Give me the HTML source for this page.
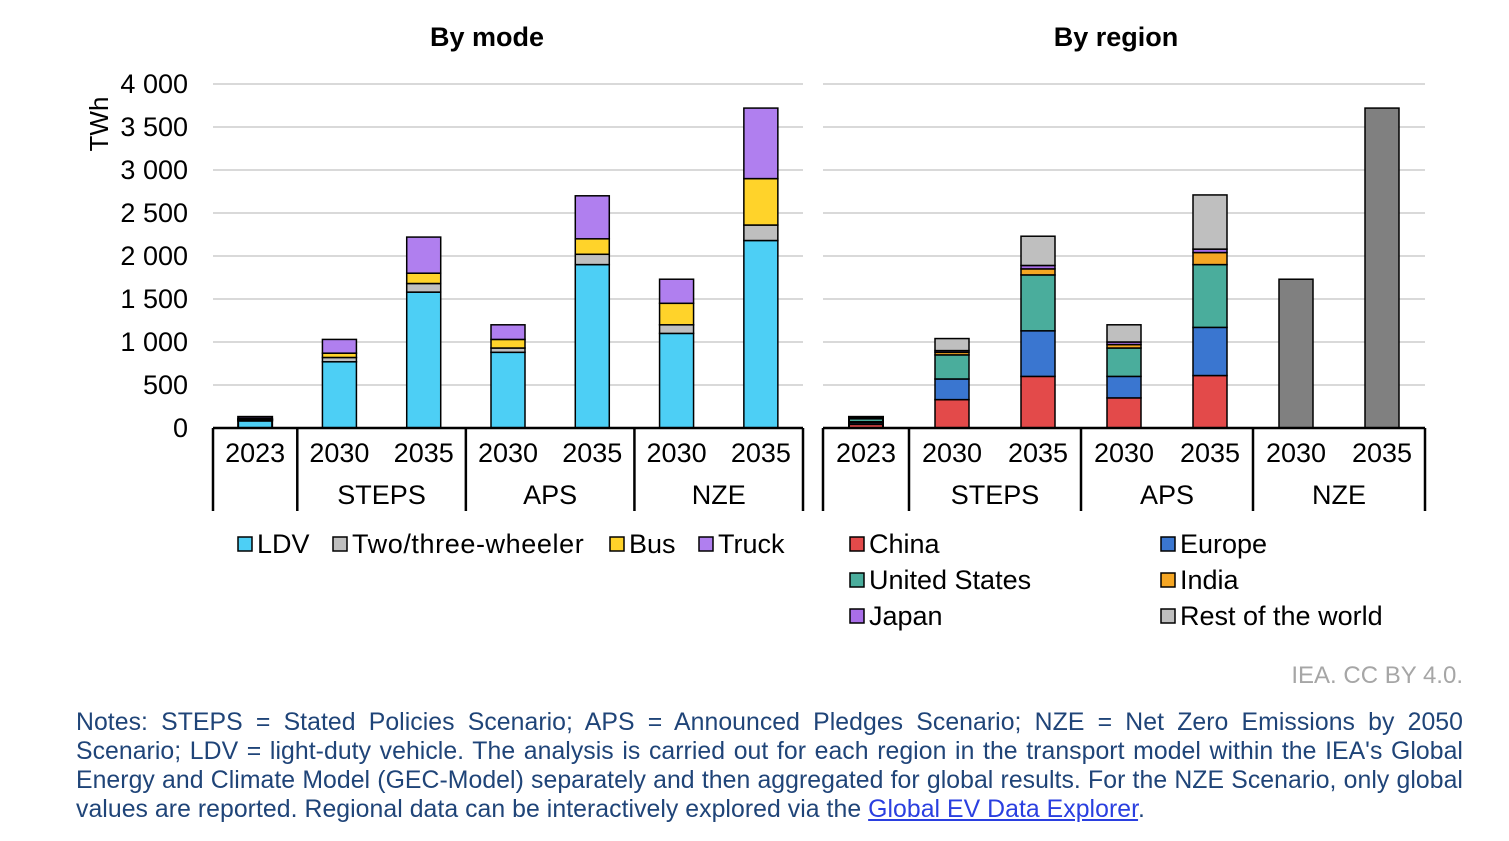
<!DOCTYPE html>
<html><head><meta charset="utf-8"><style>
body{margin:0;background:#fff;width:1509px;height:841px;overflow:hidden;font-family:"Liberation Sans",sans-serif}
svg text{font-family:"Liberation Sans",sans-serif}
.notes{position:absolute;left:76px;top:708px;width:1387px;font-size:24.8px;letter-spacing:0.05px;line-height:29px;color:#1f4478;text-align:justify}
.notes a{color:#2a3fe0;text-decoration:underline}
</style></head><body>
<svg id="c" width="1509" height="841" style="position:absolute;left:0;top:0"></svg>
<div class="notes">Notes: STEPS = Stated Policies Scenario; APS = Announced Pledges Scenario; NZE = Net Zero Emissions by 2050 Scenario; LDV = light-duty vehicle. The analysis is carried out for each region in the transport model within the IEA's Global Energy and Climate Model (GEC-Model) separately and then aggregated for global results. For the NZE Scenario, only global values are reported. Regional data can be interactively explored via the <a>Global EV Data Explorer</a>.</div>
<script>
const years=["2023","2030","2035","2030","2035","2030","2035"];
const scenarios=["STEPS","APS","NZE"];
const yTicks=[0,500,1000,1500,2000,2500,3000,3500,4000];
const yTickLabels=["0","500","1 000","1 500","2 000","2 500","3 000","3 500","4 000"];
const modeNames=["LDV","Two/three-wheeler","Bus","Truck"];
const modeColors=["#4dcff5","#bfbfbf","#ffd32a","#b07fef"];
const ldv=[85,770,1580,880,1900,1100,2180];
const twoThree=[10,50,100,50,120,100,180];
const bus=[10,50,120,100,180,250,540];
const truck=[25,160,420,170,500,280,820];
const regionNames=["China","Europe","United States","India","Japan","Rest of the world","Global"];
const regionColors=["#e34a4a","#3a76d0","#4aad9c","#f5a623","#a96ee8","#bfbfbf","#808080"];
const china=[45,330,600,350,610,0,0];
const europe=[25,240,530,250,560,0,0];
const us=[40,280,650,330,730,0,0];
const india=[5,30,70,40,140,0,0];
const japan=[5,20,40,30,40,0,0];
const rest=[10,140,340,200,630,0,0];
const globalNZE=[0,0,0,0,0,1730,3720];

const svg=document.getElementById('c');const NS='http://www.w3.org/2000/svg';
function el(t,a,p){const e=document.createElementNS(NS,t);for(const k in a)e.setAttribute(k,a[k]);(p||svg).appendChild(e);return e;}
const y0=428,pxPer=344/4000;
function y(v){return y0-v*pxPer;}
function panel(x0,x1,series,colors,pname,title,tx){
  const g=el('g',{});
  
  
  const t=el('text',{x:tx,y:46,'text-anchor':'middle','font-size':27,'font-weight':'bold'},g);t.textContent=title;
  
  yTicks.forEach((v,i)=>{if(i>0){const l=el('line',{x1:x0,x2:x1,y1:y(v),y2:y(v),stroke:'#d9d9d9','stroke-width':2},g);}});
  const step=(x1-x0)/7;
  for(let i=0;i<7;i++){
    const cx=x0+step*(i+0.5);let acc=0;
    series.forEach((s,k)=>{const v=s[i];if(v<=0)return;const r=el('rect',{x:cx-17,y:y(acc+v),width:34,height:v*pxPer,fill:colors[k],stroke:'#000','stroke-width':i===0?2:1.5},g);
      acc+=v;});
    const yl=el('text',{x:cx,y:462,'text-anchor':'middle','font-size':27},g);yl.textContent=years[i];
    
  }
  const ax=el('line',{x1:x0,x2:x1,y1:y0,y2:y0,stroke:'#000','stroke-width':2.5},g);
  [0,1,3,5,7].forEach(k=>{const l=el('line',{x1:x0+step*k,x2:x0+step*k,y1:y0,y2:511,stroke:'#000','stroke-width':2.5},g);});
  scenarios.forEach((s,k)=>{const tt=el('text',{x:x0+step*(2+2*k),y:504,'text-anchor':'middle','font-size':27},g);tt.textContent=s;
    });
}
panel(213,803,[ldv,twoThree,bus,truck],modeColors,'by-mode-panel','By mode',487);
panel(823,1425,[china,europe,us,india,japan,rest,globalNZE],regionColors,'by-region-panel','By region',1116);
yTicks.forEach((v,i)=>{const t=el('text',{x:188,y:y(v)+9,'text-anchor':'end','font-size':27});t.textContent=yTickLabels[i];
  });
const yt=el('text',{x:108,y:124,'text-anchor':'middle','font-size':26,transform:'rotate(-90 108 124)'});yt.textContent='TWh';

function legend(x,yy,name,color,ls){const g=el('g',{});
  el('rect',{x:x,y:yy-16,width:14,height:14,fill:color,stroke:'#000','stroke-width':1.5},g);
  const t=el('text',{x:x+19,y:yy,'font-size':27,'letter-spacing':ls||0},g);t.textContent=name;}
const lx=[238,333,610,699];
modeNames.forEach((n,i)=>legend(lx[i],553,n,modeColors[i],i===1?0.6:0));
const rl=[[850,553],[1161,553],[850,589],[1161,589],[850,625],[1161,625]];
for(let i=0;i<6;i++)legend(rl[i][0],rl[i][1],regionNames[i],regionColors[i]);
const src=el('text',{x:1463,y:683,'text-anchor':'end','font-size':24,fill:'#a6a6a6'});src.textContent='IEA. CC BY 4.0.';

</script>
</body></html>
